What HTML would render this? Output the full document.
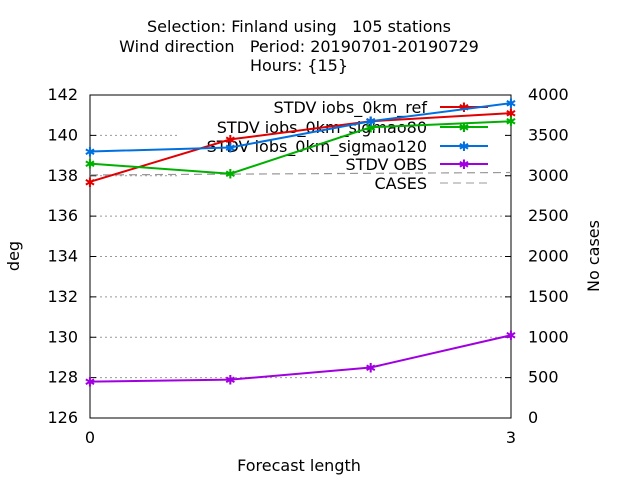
<!DOCTYPE html>
<html><head><meta charset="utf-8"><style>body{margin:0;background:#fff}svg{display:block;font-family:"DejaVu Sans","Liberation Sans",sans-serif}text{white-space:pre}</style></head>
<body>
<svg id="c" width="640" height="480" xmlns="http://www.w3.org/2000/svg"></svg>
<script>
const xVals=[0,1,2,3];
const refVals=[137.7,139.8,140.7,141.1];
const s80Vals=[138.6,138.1,140.4,140.7];
const s120Vals=[139.2,139.4,140.7,141.6];
const obsVals=[127.8,127.9,128.5,130.1];
const casesVals=[3010,3020,3030,3040];
const yTicks=[126,128,130,132,134,136,138,140,142];
const y2Ticks=[0,500,1000,1500,2000,2500,3000,3500,4000];
const xTicks=[0,3];
const L=90,R=511,T=95,B=418;
const FS=16;
const sx=v=>L+(v-0)/3*(R-L);
const sy=v=>B-(v-126)/16*(B-T);
const sy2=v=>B-v/4000*(B-T);
const svg=document.getElementById('c');
const NS='http://www.w3.org/2000/svg';
function mk(tag,at,txt){const e=document.createElementNS(NS,tag);for(const k in at)e.setAttribute(k,at[k]);if(txt!=null)e.textContent=txt;svg.appendChild(e);return e;}
[["Selection: Finland using   105 stations",32],["Wind direction   Period: 20190701-20190729",52],["Hours: {15}",71]].forEach((t,i)=>{
 const e=mk('text',{x:299,y:t[1],'text-anchor':'middle','font-size':FS},t[0]);
 
 
});
yTicks.forEach(v=>{
 if(v>126&&v<142){const g=mk('line',{x1:L,x2:R,y1:sy(v),y2:sy(v),stroke:'#999','stroke-dasharray':'2,3','stroke-width':1});
 }
 const t=mk('text',{x:L-12,y:sy(v)+5,'text-anchor':'end','font-size':FS},v);
 
 mk('line',{x1:L,x2:L+6,y1:sy(v),y2:sy(v),stroke:'#000'});
});
y2Ticks.forEach(v=>{
 const t=mk('text',{x:R+17,y:sy2(v)+5,'font-size':FS},v);
 
 mk('line',{x1:R-6,x2:R,y1:sy2(v),y2:sy2(v),stroke:'#000'});
});
xTicks.forEach(v=>{
 const t=mk('text',{x:sx(v),y:443,'text-anchor':'middle','font-size':FS},v);
 
});
const lb=mk('rect',{x:178,y:97,width:327,height:96,fill:'#fff'});

const frame=mk('rect',{x:L,y:T,width:R-L,height:B-T,fill:'none',stroke:'#000','stroke-width':1});

let a=mk('text',{x:299,y:471,'text-anchor':'middle','font-size':FS},'Forecast length');

a=mk('text',{x:19,y:256,'text-anchor':'middle','font-size':FS,transform:'rotate(-90 19 256)'},'deg');

a=mk('text',{x:599,y:256,'text-anchor':'middle','font-size':FS,transform:'rotate(-90 599 256)'},'No cases');

const series=[["STDV iobs_0km_ref",refVals,'#e00000','ref'],["STDV iobs_0km_sigmao80",s80Vals,'#00b000','sigmao80'],["STDV iobs_0km_sigmao120",s120Vals,'#0070e0','sigmao120'],["STDV OBS",obsVals,'#a000e0','obs']];
const ly=[107,127,146,164,183];
series.forEach((s,i)=>{
 const t=mk('text',{x:427,y:ly[i]+6,'text-anchor':'end','font-size':FS},s[0]);
 
 const l=mk('line',{x1:440,x2:488,y1:ly[i],y2:ly[i],stroke:s[2],'stroke-width':2});
 
 mk('text',{x:464,y:ly[i]+5,'text-anchor':'middle','font-size':13,fill:s[2],'font-weight':'bold'},'✱');
});
let t=mk('text',{x:427,y:189,'text-anchor':'end','font-size':FS},'CASES');

t=mk('line',{x1:440,x2:488,y1:183,y2:183,stroke:'#999','stroke-width':1,'stroke-dasharray':'8,5'});

const cp=mk('polyline',{points:xVals.map((x,i)=>sx(x)+','+sy2(casesVals[i])).join(' '),fill:'none',stroke:'#999','stroke-width':1.2,'stroke-dasharray':'8,5'});

series.forEach(s=>{
 const p=mk('polyline',{points:xVals.map((x,i)=>sx(x)+','+sy(s[1][i])).join(' '),fill:'none',stroke:s[2],'stroke-width':2});
 
 xVals.forEach((x,i)=>{
  const m=mk('text',{x:sx(x),y:sy(s[1][i])+5,'text-anchor':'middle','font-size':13,fill:s[2],'font-weight':'bold'},'✱');
  
 });
});
</script>
</body></html>
